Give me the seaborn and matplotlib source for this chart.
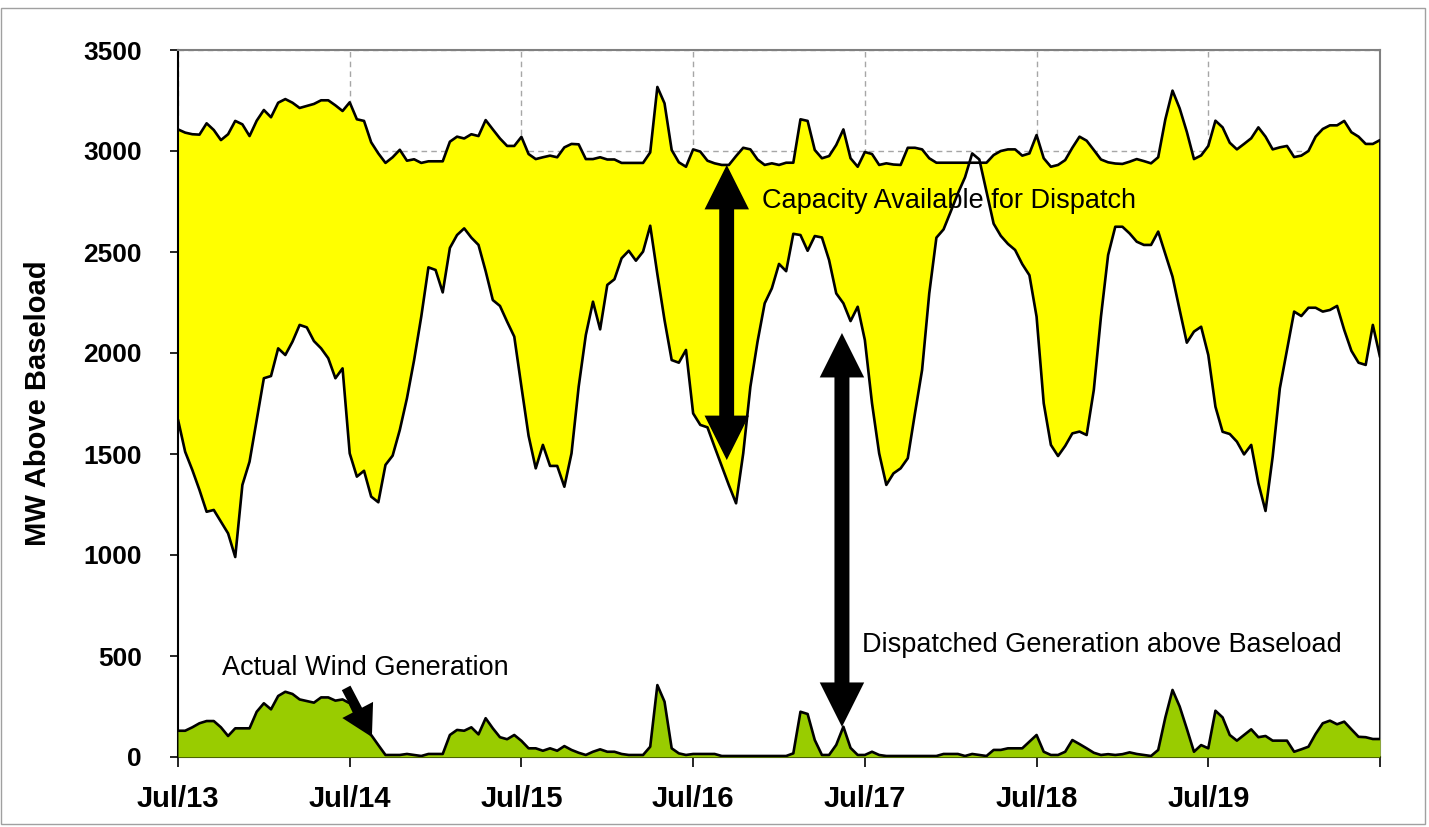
import numpy as np
import pandas as pd
import matplotlib
matplotlib.use("Agg")
import matplotlib.pyplot as plt
import seaborn as sns
from matplotlib.patches import FancyArrowPatch, ArrowStyle, Rectangle

# hourly values, Jul/13 00:00 .. Jul/20 00:00 (169 points), MW above baseload
capacity_mw = [
    3107, 3091, 3083, 3081, 3137, 3104, 3054, 3083, 3149, 3132, 3074, 3150,
    3203, 3167, 3239, 3257, 3239, 3213, 3223, 3233, 3251, 3251, 3226, 3198,
    3241, 3157, 3149, 3043, 2988, 2941, 2969, 3006, 2952, 2959, 2941, 2949,
    2949, 2949, 3046, 3071, 3062, 3083, 3074, 3153, 3107, 3062, 3025, 3025,
    3070, 2985, 2960, 2969, 2977, 2969, 3018, 3035, 3033, 2960, 2960, 2969,
    2958, 2958, 2941, 2941, 2941, 2941, 2993, 3317, 3236, 3005, 2944, 2922,
    3008, 2997, 2952, 2939, 2931, 2931, 2975, 3016, 3008, 2958, 2931, 2939,
    2931, 2942, 2942, 3157, 3149, 3005, 2964, 2975, 3030, 3107, 2964, 2922,
    2995, 2985, 2931, 2939, 2933, 2931, 3016, 3016, 3008, 2964, 2942, 2942,
    2942, 2942, 2942, 2942, 2942, 2942, 2980, 3000, 3008, 3008, 2977, 2988,
    3079, 2964, 2922, 2931, 2955, 3016, 3071, 3051, 3005, 2958, 2944, 2938,
    2936, 2947, 2960, 2950, 2939, 2969, 3157, 3299, 3211, 3095, 2960, 2978,
    3025, 3150, 3117, 3041, 3008, 3035, 3063, 3117, 3071, 3008, 3018, 3025,
    2970, 2977, 3000, 3071, 3109, 3127, 3127, 3149, 3093, 3071, 3035, 3035,
    3054,
]

dispatched_mw = [
    1670, 1511, 1421, 1322, 1214, 1223, 1165, 1107, 990, 1347, 1462, 1668,
    1875, 1886, 2023, 1990, 2056, 2139, 2127, 2059, 2023, 1974, 1875, 1924,
    1503, 1388, 1417, 1289, 1261, 1446, 1492, 1619, 1776, 1965, 2180, 2424,
    2411, 2300, 2520, 2584, 2617, 2571, 2535, 2405, 2262, 2233, 2155, 2081,
    1833, 1590, 1429, 1545, 1441, 1441, 1338, 1503, 1833, 2089, 2254, 2117,
    2337, 2365, 2469, 2506, 2457, 2502, 2630, 2390, 2163, 1965, 1952, 2015,
    1701, 1644, 1632, 1535, 1440, 1345, 1256, 1503, 1833, 2056, 2246, 2320,
    2441, 2405, 2590, 2584, 2506, 2579, 2572, 2460, 2295, 2246, 2158, 2229,
    2064, 1751, 1503, 1347, 1404, 1429, 1479, 1701, 1916, 2295, 2571, 2612,
    2700, 2790, 2870, 2988, 2958, 2800, 2640, 2580, 2540, 2510, 2440, 2385,
    2180, 1751, 1545, 1490, 1540, 1602, 1611, 1594, 1817, 2180, 2485, 2625,
    2625, 2592, 2551, 2535, 2535, 2601, 2490, 2378, 2213, 2051, 2106, 2130,
    1990, 1734, 1610, 1599, 1561, 1498, 1545, 1355, 1218, 1487, 1825, 2015,
    2205, 2183, 2224, 2224, 2205, 2213, 2233, 2114, 2011, 1952, 1941, 2139,
    1980,
]

wind_mw = [
    130, 130, 147, 167, 178, 178, 147, 104, 142, 142, 142, 224,
    266, 236, 302, 323, 312, 285, 277, 269, 295, 295, 279, 285,
    266, 192, 150, 109, 59, 10, 10, 10, 15, 10, 5, 15,
    15, 15, 109, 134, 130, 147, 112, 192, 142, 98, 88, 109,
    80, 43, 43, 31, 43, 31, 54, 35, 21, 10, 26, 38,
    26, 26, 15, 10, 10, 10, 51, 356, 274, 43, 18, 10,
    15, 15, 15, 15, 5, 5, 5, 5, 5, 5, 5, 5,
    5, 5, 18, 224, 213, 84, 10, 10, 60, 150, 45, 10,
    10, 26, 10, 5, 5, 5, 5, 5, 5, 5, 5, 15,
    15, 15, 5, 15, 10, 5, 35, 35, 43, 43, 43, 76,
    109, 26, 10, 10, 26, 84, 64, 43, 21, 10, 14, 10,
    14, 23, 15, 10, 5, 35, 196, 332, 250, 140, 26, 59,
    43, 229, 196, 109, 81, 109, 137, 98, 104, 81, 81, 81,
    26, 38, 51, 114, 167, 180, 162, 175, 137, 100, 98, 89,
    89,
]

day_labels = ["Jul/13", "Jul/14", "Jul/15", "Jul/16", "Jul/17", "Jul/18", "Jul/19", ""]
y_ticks = [0, 500, 1000, 1500, 2000, 2500, 3000, 3500]

df = pd.DataFrame({
    "hour": np.arange(len(capacity_mw)),
    "capacity": capacity_mw,
    "dispatched": dispatched_mw,
    "wind": wind_mw,
})
last = df.iloc[-1]

sns.set_theme(style="white")
plt.rcParams["font.family"] = ["Liberation Sans", "DejaVu Sans"]
plt.rcParams.update({"text.color": "black", "axes.labelcolor": "black",
                     "xtick.color": "black", "ytick.color": "black"})
narrow = ["Liberation Sans Narrow", "Liberation Sans", "DejaVu Sans"]

fig = plt.figure(figsize=(14.29, 8.27), dpi=100)
ax = fig.add_axes([178 / 1429, 70 / 827, 1202 / 1429, 707 / 827])

# filled areas: capacity (yellow), dispatched generation drawn over it (white), wind (green)
ax.fill_between(df["hour"], 0, df["capacity"], color="#FFFF00", lw=0, zorder=1)
ax.fill_between(df["hour"], 0, df["dispatched"], color="white", lw=0, zorder=2)
ax.fill_between(df["hour"], 0, df["wind"], color="#99CC00", lw=0, zorder=3)

for col in ["capacity", "dispatched", "wind"]:
    sns.lineplot(data=df, x="hour", y=col, color="black", lw=1.9, ax=ax, zorder=4)
ax.vlines(last["hour"], last["wind"], last["capacity"], color="black", lw=1.9, zorder=4)

ax.set_xlim(0, len(df) - 1)
ax.set_ylim(0, 3500)
ax.set_xticks(range(0, len(df), 24))
ax.set_xticklabels(day_labels, fontsize=21, fontweight="bold")
ax.set_yticks(y_ticks)
ax.set_yticklabels([str(v) for v in y_ticks], fontsize=19, fontweight="bold")
ax.tick_params(axis="x", bottom=True, direction="out", length=7, width=1.2, pad=13)
ax.tick_params(axis="y", left=True, direction="out", length=6, width=1.2, pad=20)
ax.set_xlabel("")
ax.set_ylabel("MW Above Baseload", fontsize=21, fontweight="bold")
ax.yaxis.set_label_coords(-0.105, 0.5)

ax.set_axisbelow(True)
ax.grid(True, color="#a6a6a6", linestyle=(0, (4, 3)), lw=1)
for side in ["top", "right"]:
    ax.spines[side].set_color("#808080")
    ax.spines[side].set_linewidth(1.5)
for side in ["left", "bottom"]:
    ax.spines[side].set_color("black")
    ax.spines[side].set_linewidth(1.5)

HEAD = 32


def add_arrow(start, end, head_len, head_w, tail_w, shrink_start=0):
    style = ArrowStyle.Simple(head_length=head_len, head_width=head_w, tail_width=tail_w)
    ax.add_patch(FancyArrowPatch(posA=start, posB=end, arrowstyle=style, mutation_scale=1,
                                 color="black", lw=0, shrinkA=shrink_start, shrinkB=0,
                                 zorder=6))


def double_arrow(x, low, high):
    # two overlapping arrows so the shaft is one continuous piece
    add_arrow((x, low), (x, high), HEAD, HEAD, 10.5, shrink_start=HEAD - 2)
    add_arrow((x, high), (x, low), HEAD, HEAD, 10.5, shrink_start=HEAD - 2)


double_arrow(76.7, 1470, 2931)
double_arrow(92.8, 149, 2099)
add_arrow((23.5, 342), (27.1, 99), 22, 25, 7)

ax.text(81.6, 2716, "Capacity Available for Dispatch", fontsize=19.5, family=narrow,
        va="baseline", ha="left", zorder=7)
ax.text(95.6, 520, "Dispatched Generation above Baseload", fontsize=19.5, family=narrow,
        va="baseline", ha="left", zorder=7)
ax.text(6.2, 406, "Actual Wind Generation", fontsize=19.5, family=narrow,
        va="baseline", ha="left", zorder=7)

fig.patches.append(Rectangle((0.001, 0.004), 0.996, 0.986, transform=fig.transFigure,
                             fill=False, edgecolor="#a0a0a0", lw=1))

fig.savefig("out.png", dpi=100)
